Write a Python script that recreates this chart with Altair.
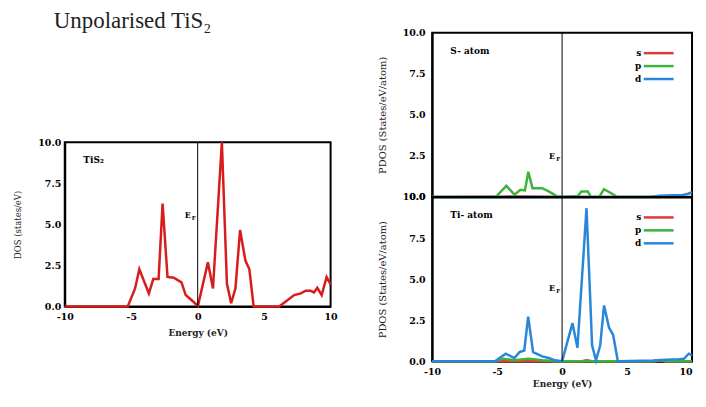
import altair as alt
import pandas as pd

# ---------------- data ----------------
# Total DOS of TiS2 (left panel)
dos_energy = [-10, -5.26, -4.71, -4.39, -3.67, -3.34, -2.94, -2.64, -2.27, -1.8, -1.22, -0.9, -0.47, 0.02,
              0.77, 1.15, 1.82, 2.2, 2.52, 2.84, 3.19, 3.59, 3.89, 4.21, 6.13, 7.26, 7.76, 8.13, 8.5, 8.75,
              9.0, 9.33, 9.7, 10.0]
dos_value = [0, 0, 1.1, 2.27, 0.8, 1.67, 1.67, 6.27, 1.8, 1.75, 1.47, 0.7, 0.4, 0.04,
             2.7, 1.1, 10.0, 1.4, 0.2, 1.1, 4.66, 2.8, 2.27, 0, 0, 0.7, 0.8, 0.96, 0.96, 0.86,
             1.14, 0.7, 1.8, 1.35]

# S-atom PDOS
s_s_energy = [-10, -5.0, -3.0, 0.0, 10]
s_s_value = [0, 0.02, 0.03, 0, 0]
s_p_energy = [-10, -5.11, -4.29, -3.66, -3.21, -2.86, -2.6, -2.28, -1.53, -1.03, -0.4, 0.1, 0.85, 1.2,
              1.48, 1.98, 2.23, 2.86, 3.23, 3.98, 4.24, 10]
s_p_value = [0, 0, 0.68, 0.14, 0.44, 0.4, 1.54, 0.54, 0.54, 0.34, 0.04, 0, 0.04, 0.04,
             0.34, 0.34, 0, 0, 0.48, 0.14, 0, 0]
s_d_energy = [-10, 6.8, 7.5, 8.5, 9.3, 9.7, 10]
s_d_value = [0, 0, 0.08, 0.1, 0.12, 0.2, 0.3]

# Ti-atom PDOS
ti_s_energy = [-10, 1.5, 1.9, 2.3, 7.2, 7.6, 8.0, 10]
ti_s_value = [0, 0, 0.06, 0, 0, 0.06, 0, 0]
ti_p_energy = [-10, -5.1, -4.5, -3.7, -2.6, -1.5, -0.5, 7.0, 7.5, 8.0, 10]
ti_p_value = [0, 0, 0.16, 0.06, 0.16, 0.06, 0, 0, 0.08, 0, 0]
ti_d_energy = [-10, -5.16, -4.34, -3.66, -3.28, -2.91, -2.61, -2.23, -1.53, -1.03, -0.53, 0, 0.8, 1.18,
               1.88, 2.31, 2.61, 2.93, 3.23, 3.61, 3.93, 4.29, 7.0, 8.0, 9.0, 9.37, 9.75, 10]
ti_d_value = [0, 0, 0.46, 0.2, 0.56, 0.66, 2.72, 0.56, 0.3, 0.2, 0.06, 0, 2.32, 0.82,
              9.32, 0.96, 0.06, 0.96, 3.4, 2.06, 1.6, 0, 0.05, 0.1, 0.12, 0.15, 0.46, 0.36]

orbitals = ["s", "p", "d"]
orbital_colors = ["#e03a3a", "#3cb43c", "#2a86d8"]
dos_color = "#d81c1c"

x_ticks = [-10, -5, 0, 5, 10]
y_ticks = [0, 2.5, 5, 7.5, 10]

panel_labels = ["TiS₂", "S- atom", "Ti- atom"]
label_pos = [-8.6, 8.9]
fermi_y = [5.5, 2.44, 4.4]

SERIF = "DejaVu Serif"

# ---------------- helpers ----------------
def orbital_frame(triples):
    rows = []
    for orb, es, vs in triples:
        for e, v in zip(es, vs):
            rows.append({"Energy": e, "DOS": v, "orbital": orb})
    return pd.DataFrame(rows)


xscale = alt.Scale(domain=[-10, 10], nice=False, zero=False)
yscale = alt.Scale(domain=[0, 10], nice=False)


def x_axis(show_labels=True, title="Energy (eV)", label_pad=5, title_pad=8, flush_last=False):
    if show_labels:
        kw = {}
        if flush_last:
            kw["labelAlign"] = {"condition": {"test": "datum.value >= 10", "value": "right"}, "value": "center"}
        return alt.Axis(values=x_ticks, labelExpr="toString(datum.value)", title=title, labelFlush=False,
                        labelPadding=label_pad, titlePadding=title_pad, **kw)
    return alt.Axis(values=x_ticks, labels=False, title=None)


def y_axis(title, title_font_size, title_pad, label_pad):
    return alt.Axis(values=y_ticks, format=".1f", title=title, titleFontSize=title_font_size,
                    titleFontWeight="normal", titlePadding=title_pad, labelPadding=label_pad)


def annotations(label, ef_y):
    lab = alt.Chart(pd.DataFrame({"x": [label_pos[0]], "y": [label_pos[1]], "t": [label]})).mark_text(
        align="left", baseline="middle", font=SERIF, fontWeight="bold", fontSize=9, color="black"
    ).encode(x=alt.X("x:Q", scale=xscale), y=alt.Y("y:Q", scale=yscale), text="t:N")
    ef = pd.DataFrame({"x": [0], "y": [ef_y]})
    e_text = alt.Chart(ef).mark_text(
        align="right", baseline="middle", dx=-7, font=SERIF, fontWeight="bold", fontSize=8, color="black"
    ).encode(x=alt.X("x:Q", scale=xscale), y=alt.Y("y:Q", scale=yscale), text=alt.value("E"))
    f_text = alt.Chart(ef).mark_text(
        align="right", baseline="middle", dx=-2, dy=2, font=SERIF, fontWeight="bold", fontSize=5.5,
        color="black"
    ).encode(x=alt.X("x:Q", scale=xscale), y=alt.Y("y:Q", scale=yscale), text=alt.value("F"))
    fermi = alt.Chart(ef).mark_rule(color="black", strokeWidth=1).encode(x=alt.X("x:Q", scale=xscale))
    return fermi + lab + e_text + f_text


# ---------------- left: title block + total DOS ----------------
title_block = alt.Chart(pd.DataFrame({"x": [0]})).mark_point(opacity=0).encode(
    x=alt.value(0), y=alt.value(0)
).properties(
    width=1, height=110, view=alt.ViewBackground(stroke="transparent"),
    title=alt.TitleParams("Unpolarised TiS₂", anchor="start", frame="group", dx=-11, offset={"expr": "-3"},
                          font="Liberation Serif", fontSize=23, fontWeight="normal", color="#222222"),
)

dos_df = pd.DataFrame({"Energy": dos_energy, "DOS": dos_value})
left_line = alt.Chart(dos_df).mark_line(color=dos_color, strokeWidth=2.5).encode(
    x=alt.X("Energy:Q", scale=xscale, axis=x_axis(True, label_pad=5, title_pad=8)),
    y=alt.Y("DOS:Q", scale=yscale, axis=y_axis("DOS (states/eV)", 8.5, 15, 4)),
)
left_plot = alt.layer(left_line, annotations(panel_labels[0], fermi_y[0])).properties(width=267, height=165)
left = alt.vconcat(title_block, left_plot, spacing=0, bounds="flush")

# ---------------- right: PDOS ----------------
color_scale = alt.Scale(domain=orbitals, range=orbital_colors)
legend = alt.Legend(title=None, orient="top-right", offset=13, symbolType="M-2.5,0H2.5", symbolSize=144,
                    symbolStrokeWidth=2.5, labelFont=SERIF, labelFontWeight="bold", labelFontSize=9,
                    labelAlign="right", labelOffset={"expr": "-25"}, rowPadding=0, symbolOffset=0)


def pdos_panel(df, label, ef_y, bottom):
    line = alt.Chart(df).mark_line(strokeWidth=2.5).encode(
        x=alt.X("Energy:Q", scale=xscale,
                axis=x_axis(bottom, label_pad=5, title_pad=4, flush_last=True)),
        y=alt.Y("DOS:Q", scale=yscale, axis=y_axis("PDOS (States/eV/atom)", 10, 15, 7)),
        color=alt.Color("orbital:N", scale=color_scale, sort=orbitals, legend=legend),
        order=alt.Order("ord:Q"),
    )
    return alt.layer(line, annotations(label, ef_y)).properties(width=261, height=165)


s_df = orbital_frame([("s", s_s_energy, s_s_value), ("p", s_p_energy, s_p_value), ("d", s_d_energy, s_d_value)])
ti_df = orbital_frame([("s", ti_s_energy, ti_s_value), ("p", ti_p_energy, ti_p_value), ("d", ti_d_energy, ti_d_value)])
s_df["ord"] = range(len(s_df))
ti_df["ord"] = range(len(ti_df))

top_right = pdos_panel(s_df, panel_labels[1], fermi_y[1], False)
bottom_right = pdos_panel(ti_df, panel_labels[2], fermi_y[2], True)

right = alt.vconcat(top_right, bottom_right, spacing=0, bounds="flush").resolve_scale(color="independent")

chart = alt.hconcat(left, right, spacing=37).properties(
    padding={"left": 4, "top": 0, "right": 0, "bottom": 0}
).configure_view(stroke="black", strokeWidth=2).configure_axis(
    domainColor="black", domainWidth=2, ticks=False, grid=False, zindex=1,
    labelFont=SERIF, labelFontWeight="bold", labelFontSize=9.5, labelColor="black",
    titleFont=SERIF, titleFontWeight="bold", titleFontSize=9, titleColor="#222222",
)

chart.save("out.html", embed_options={"renderer": "svg", "actions": False})
